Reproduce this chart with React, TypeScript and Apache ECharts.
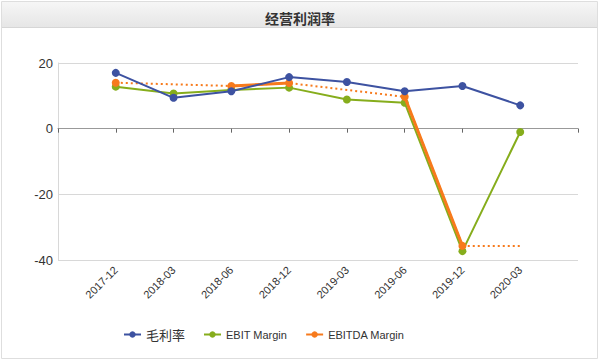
import React, { useEffect, useRef } from "react";
import * as echarts from "echarts";

const categories = ["2017-12", "2018-03", "2018-06", "2018-12", "2019-03", "2019-06", "2019-12", "2020-03"];
const grossMargin = [17.0, 9.4, 11.4, 15.7, 14.2, 11.4, 13.0, 7.1];
const ebitMargin = [12.8, 10.7, 11.8, 12.5, 8.9, 7.9, -37.3, -1.0];
const ebitdaMargin: (number | null)[] = [14.0, null, 13.0, 13.9, null, 9.7, -35.7, null];
const ebitdaCarry: (number | null)[] = [14.0, null, 13.0, 13.9, null, 9.7, -35.7, -35.7];
const yTicks = [-40, -20, 0, 20];

const BLUE = "#3d52a1";
const GREEN = "#86ad1c";
const ORANGE = "#f77a1c";

export default function App() {
  const ref = useRef<HTMLDivElement>(null);
  useEffect(() => {
    if (!ref.current) return;
    const chart = echarts.init(ref.current, undefined, { renderer: "svg" });
    const axisCats = ["", ...categories, ""];
    const pad = (arr: (number | null)[]) => [null, ...arr, null];
    const font = "Liberation Sans, Arial, sans-serif";
    chart.setOption({
      animation: false,
      backgroundColor: "#ffffff",
      textStyle: { fontFamily: font },
      graphic: [
        { type: "rect", shape: { x: 1.5, y: 1.5, width: 596, height: 357 }, style: { fill: "none", stroke: "#dedede", lineWidth: 1 }, z: 0 },
        {
          type: "rect",
          shape: { x: 2, y: 2, width: 595, height: 25 },
          style: {
            fill: new echarts.graphic.LinearGradient(0, 0, 0, 1, [
              { offset: 0, color: "#f6f6f6" },
              { offset: 1, color: "#e6e6e6" },
            ]),
          },
          z: 0,
        },
        { type: "line", shape: { x1: 2, y1: 27.5, x2: 597, y2: 27.5 }, style: { stroke: "#d6d6d6", lineWidth: 1 }, z: 1 },
      ],
      title: {
        text: "经营利润率",
        left: "center",
        top: 6,
        textStyle: { fontSize: 14, fontWeight: "bold", color: "#333", fontFamily: "Noto Sans CJK SC, sans-serif" },
      },
      legend: {
        bottom: 15,
        left: 118,
        itemGap: 18,
        itemWidth: 17,
        itemHeight: 8,
        textStyle: { fontSize: 11, color: "#333", fontFamily: font },
        data: [
          { name: "毛利率", textStyle: { fontSize: 13, fontFamily: "Noto Sans CJK SC, sans-serif" } },
          "EBIT Margin",
          "EBITDA Margin",
        ],
      },
      grid: { left: 58, right: 22, top: 63, bottom: 101 },
      xAxis: {
        type: "category",
        data: axisCats,
        boundaryGap: false,
        axisLine: { lineStyle: { color: "#999" } },
        axisTick: { length: 4, lineStyle: { color: "#666" } },
        axisLabel: { rotate: 45, fontSize: 11, color: "#333", margin: 8, interval: 0, fontFamily: font },
        splitLine: { show: false },
      },
      yAxis: {
        type: "value",
        min: yTicks[0],
        max: yTicks[yTicks.length - 1],
        interval: 20,
        axisLine: { show: true, lineStyle: { color: "#d8d8d8" } },
        axisTick: { show: false },
        axisLabel: { fontSize: 13, color: "#333", margin: 5, fontFamily: font },
        splitLine: { lineStyle: { color: "#d8d8d8" } },
      },
      series: [
        {
          name: "毛利率",
          type: "line",
          data: pad(grossMargin),
          symbol: "circle",
          symbolSize: 8,
          lineStyle: { color: BLUE, width: 2 },
          itemStyle: { color: BLUE },
          z: 4,
        },
        {
          name: "EBIT Margin",
          type: "line",
          data: pad(ebitMargin),
          symbol: "circle",
          symbolSize: 8,
          lineStyle: { color: GREEN, width: 2 },
          itemStyle: { color: GREEN },
          z: 2,
        },
        {
          name: "EBITDA Margin",
          type: "line",
          data: pad(ebitdaMargin),
          symbol: "circle",
          symbolSize: 8,
          lineStyle: { color: ORANGE, width: 3 },
          itemStyle: { color: ORANGE },
          z: 3,
        },
        {
          name: "EBITDA Margin (gap)",
          type: "line",
          data: pad(ebitdaCarry),
          connectNulls: true,
          symbol: "none",
          lineStyle: { color: ORANGE, width: 2, type: [2, 3] },
          itemStyle: { color: ORANGE },
          z: 1,
          legendHoverLink: false,
        },
      ],
    });
    return () => chart.dispose();
  }, []);
  return <div ref={ref} style={{ position: "fixed", left: 0, top: 0, width: 600, height: 361 }} />;
}
